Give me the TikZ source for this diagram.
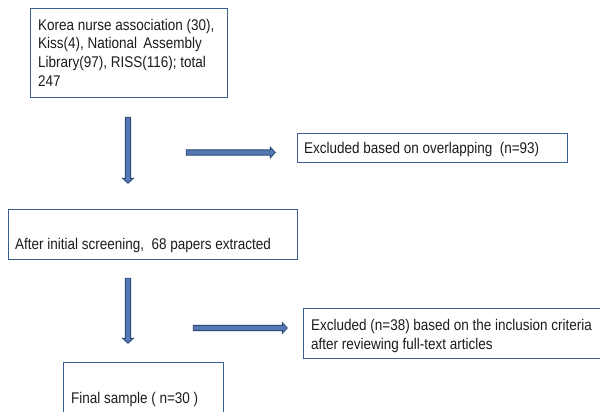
\documentclass[tikz,border=0pt]{standalone}
\usepackage{fontspec}
\setmainfont[FakeStretch=0.87]{Liberation Sans}
\usetikzlibrary{shapes.arrows}
\definecolor{boxline}{HTML}{3B5F8F}
\definecolor{arrline}{HTML}{2A4A7C}
\definecolor{arrfill}{HTML}{5479B0}
\definecolor{txt}{HTML}{1C1C1C}
\begin{document}
\begin{tikzpicture}[x=1pt,y=-1pt,
  box/.style={draw=boxline,line width=0.9pt,anchor=north west,inner sep=0pt},
  txtnode/.style={anchor=base west,inner sep=0pt,text=txt,font=\fontsize{15.5}{19}\selectfont,align=left},
  barrow/.style={single arrow,draw=arrline,fill=arrfill,line width=0.9pt,inner sep=2.2pt,
    single arrow head extend=2.6pt,single arrow tip angle=95,anchor=center}]
\useasboundingbox (0,0) rectangle (600,412);
\clip (0,0) rectangle (600,412);
\fill[white] (0,0) rectangle (600,412);
% boxes
\node[box,minimum width=197pt,minimum height=89pt] (b1) at (30,8) {};
\node[box,minimum width=270pt,minimum height=29pt] (b2) at (297,133) {};
\node[box,minimum width=289pt,minimum height=50pt] (b3) at (8,209) {};
\node[box,minimum width=160pt,minimum height=60pt] (b4) at (63,362) {};
\node[box,minimum width=300pt,minimum height=50pt] (b5) at (303,308) {};
% texts (multi-line nodes placed by their last baseline)
\node[txtnode] (t1) at (38,87) {Korea nurse association (30),\\Kiss(4), National\, Assembly\\Library(97), RISS(116); total\\247};
\node[txtnode] (t2) at (304,153) {Excluded based on overlapping\ \ (n=93)};
\node[txtnode] (t3) at (15,249) {After initial screening,\ \ 68 papers extracted};
\node[txtnode] (t4) at (71,403) {Final sample ( n=30 )};
\node[txtnode] (t5) at (311,349) {Excluded (n=38) based on the inclusion criteria\\after reviewing full-text articles};
% arrows
\node[barrow,minimum height=66pt,minimum width=10pt,rotate=-90] (a1) at (128,149) {};
\node[barrow,minimum height=89pt,minimum width=10pt] (a2) at (229.5,152.5) {};
\node[barrow,minimum height=65pt,minimum width=10pt,rotate=-90] (a3) at (128,309.5) {};
\node[barrow,minimum height=94pt,minimum width=10pt] (a4) at (239,328) {};
\end{tikzpicture}
\end{document}
